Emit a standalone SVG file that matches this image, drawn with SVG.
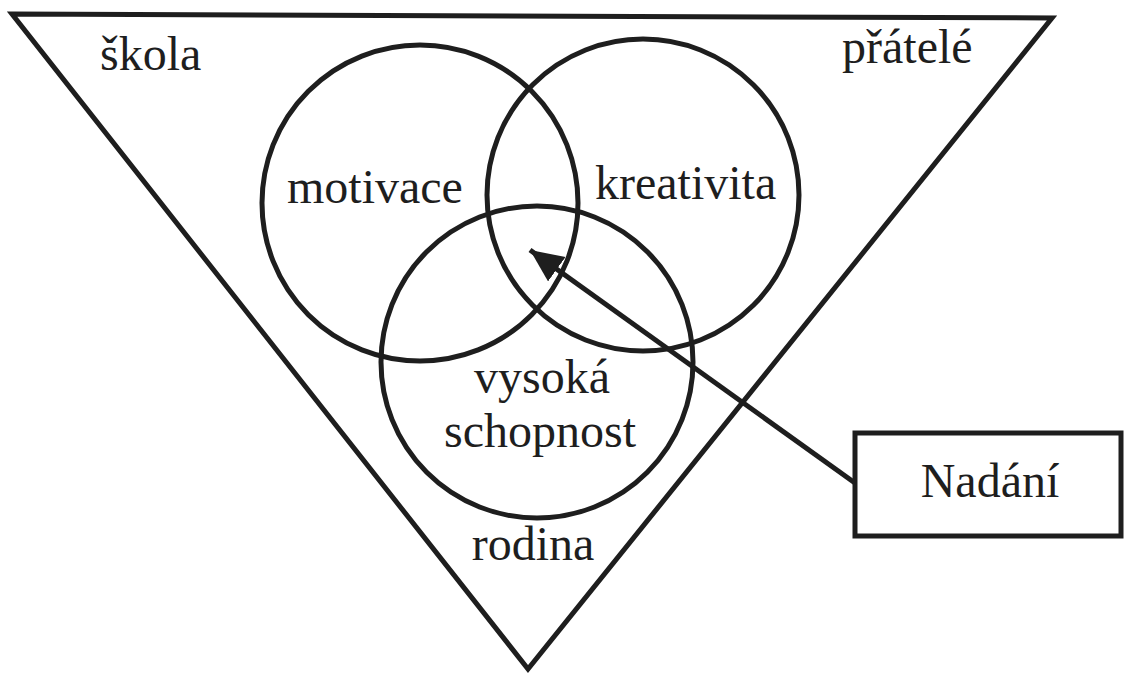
<svg xmlns="http://www.w3.org/2000/svg" width="1124" height="673" viewBox="0 0 1124 673">
  <style>
    .shape { fill: none; stroke: #1e1e1e; stroke-width: 5; }
    .lbl { font-family: "Liberation Serif", "Times New Roman", serif; font-size: 48px; fill: #1e1e1e; }
    .mid { text-anchor: middle; }
  </style>
  <defs>
    <marker id="arrow" markerUnits="userSpaceOnUse" markerWidth="40" markerHeight="40" refX="33" refY="15" orient="auto">
      <path d="M0,0 L33,15 L0,30 Z" fill="#1e1e1e"/>
    </marker>
  </defs>
  <rect width="1124" height="673" fill="#ffffff"/>

  <g id="context">
    <polygon class="shape" points="12,14 1052,18 528,669" stroke-linejoin="miter"/>
    <text class="lbl" x="100" y="70">škola</text>
    <text class="lbl" x="842" y="63">přátelé</text>
    <text class="lbl mid" x="533" y="560">rodina</text>
  </g>

  <g id="motivace">
    <circle class="shape" cx="420" cy="203" r="158"/>
    <text class="lbl" x="287" y="203">motivace</text>
  </g>

  <g id="kreativita">
    <circle class="shape" cx="643" cy="195" r="156"/>
    <text class="lbl" x="595" y="199">kreativita</text>
  </g>

  <g id="vysoka-schopnost">
    <circle class="shape" cx="537" cy="362" r="156"/>
    <text class="lbl mid" x="542" y="393">vysoká</text>
    <text class="lbl mid" x="540" y="447">schopnost</text>
  </g>

  <g id="nadani">
    <rect class="shape" x="855" y="433" width="266" height="103"/>
    <text class="lbl mid" x="990" y="497">Nadání</text>
  </g>

  <g id="connectors">
    <line class="shape" x1="855" y1="483" x2="530" y2="250" marker-end="url(#arrow)"/>
  </g>
</svg>
